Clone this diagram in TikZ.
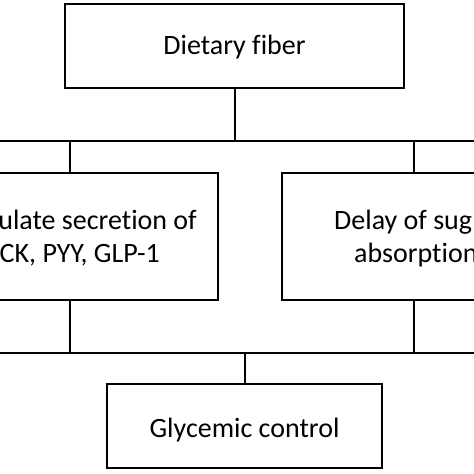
\documentclass[tikz,border=0pt]{standalone}
\usepackage{fontspec}
\setmainfont{Carlito}[Ligatures=NoCommon]
\begin{document}
\begin{tikzpicture}[x=1bp,y=-1bp,
  boxnode/.style={draw=black,line width=2bp,fill=none,inner sep=0pt,rectangle},
  conn/.style={draw=black,line width=2bp},
  lbl/.style={inner sep=0pt,font=\fontsize{28bp}{34bp}\selectfont,text=black}]
\useasboundingbox (0,0) rectangle (474,474);
\clip (0,0) rectangle (474,474);
% boxes
\node[boxnode,minimum width=339bp,minimum height=84bp] (top) at (234.5,46) {};
\node[boxnode,minimum width=296bp,minimum height=127bp] (left) at (70,236.5) {};
\node[boxnode,minimum width=264bp,minimum height=127bp] (right) at (414,236.5) {};
\node[boxnode,minimum width=275bp,minimum height=84bp] (bottom) at (244.5,426) {};
% texts
\node[lbl,anchor=base] (ttop) at (234.5,55) {Dietary fiber};
\node[lbl,anchor=base east] (tl1) at (197,230) {ulate secretion of};
\node[lbl,anchor=base east] (tl2) at (160,262) {CK, PYY, GLP-1};
\node[lbl,anchor=base west] (tr1) at (334,230) {Delay of sug};
\node[lbl,anchor=base west] (tr2) at (354,262) {absorption};
\node[lbl,anchor=base] (tbot) at (244.5,437) {Glycemic control};
% bus coordinates
\coordinate (busAw) at (-10,141);
\coordinate (busAe) at (484,141);
\coordinate (busBw) at (-10,353);
\coordinate (busBe) at (484,353);
% connectors
\draw[conn] (top.south) -- (top.south |- busAw);
\draw[conn] (busAw) -- (busAe);
\draw[conn] (left.north) -- (left.north |- busAw);
\draw[conn] (right.north) -- (right.north |- busAw);
\draw[conn] (left.south) -- (left.south |- busBw);
\draw[conn] (right.south) -- (right.south |- busBw);
\draw[conn] (busBw) -- (busBe);
\draw[conn] (bottom.north) -- (bottom.north |- busBw);
\end{tikzpicture}
\end{document}
